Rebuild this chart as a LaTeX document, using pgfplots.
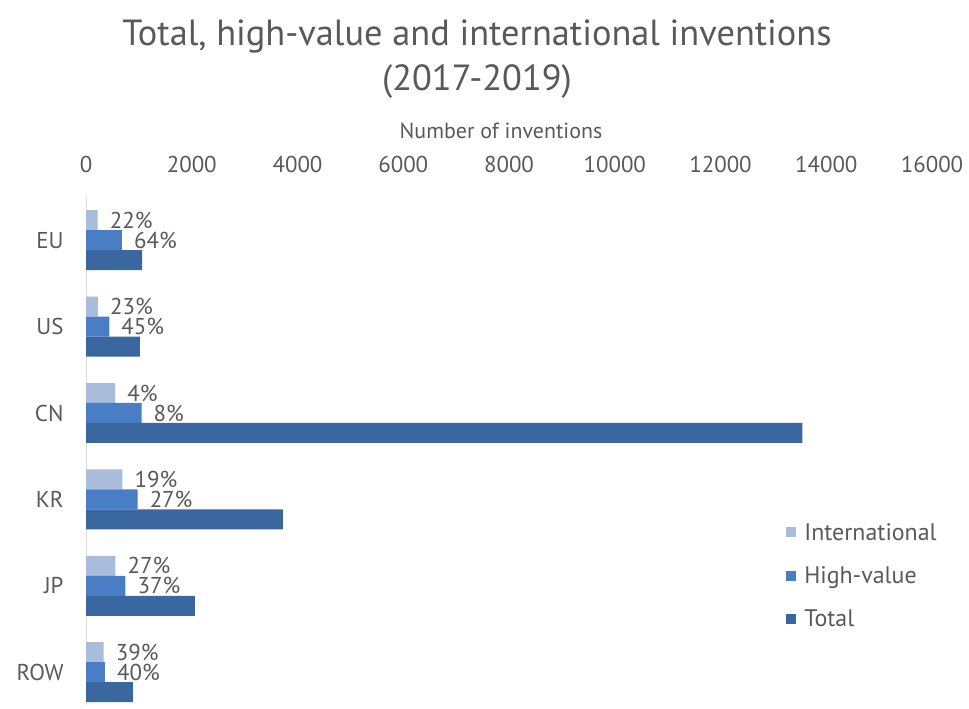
\documentclass[border=0pt]{standalone}
\usepackage{pgfplots}
\pgfplotsset{compat=1.18}
\usepackage{fontspec}
\setmainfont{PT Sans}
\definecolor{intl}{HTML}{A9BCDB}
\definecolor{hv}{HTML}{4A7EC4}
\definecolor{tot}{HTML}{3B67A1}
\definecolor{txt}{HTML}{595959}
\definecolor{axl}{HTML}{D9D9D9}
\pgfplotsset{sqlegend/.style={legend image code/.code={\fill[##1] (0bp,-5bp) rectangle (10bp,5bp);}}}
\begin{document}
\begin{tikzpicture}
\useasboundingbox (0,0) rectangle (969bp,709bp);
\node[font=\fontsize{36.5}{45}\selectfont, text=txt, align=center] at (477bp,650bp) {Total, high-value and international inventions\\(2017-2019)};
\node[font=\fontsize{22}{24}\selectfont, text=txt] at (501bp,578bp) {Number of inventions};
\begin{axis}[
  at={(86bp,4bp)}, anchor=south west,
  width=846bp, height=508bp, scale only axis,
  xbar, bar width=20bp,
  xmin=0, xmax=16000, ymin=-0.5, ymax=5.38, y dir=reverse,
  ytick={0,...,5}, yticklabels={EU,US,CN,KR,JP,ROW},
  xtick={0,2000,...,16000},
  axis x line*=top, axis y line*=left,
  x axis line style={draw=none}, y axis line style={draw=axl, line width=1bp, -},
  major tick length=0pt,
  tick label style={font=\fontsize{23}{24}\selectfont, text=txt},
  /pgf/number format/assume math mode=true,
  /pgf/number format/set thousands separator={},
  xticklabel style={yshift=21bp},
  yticklabel style={xshift=-19bp},
  scaled x ticks=false,
  every node near coord/.append style={anchor=west, inner sep=0pt, xshift=12bp, font=\fontsize{23}{25}\selectfont, text=txt},
  legend style={draw=none, fill=none, at={(0.824,0.366)}, anchor=north west, font=\fontsize{24}{26}\selectfont, text=txt, row sep=21bp, column sep=6bp},
  legend cell align=left,
]
\addplot[fill=intl, draw=none, bar shift=20bp, nodes near coords, point meta=explicit symbolic, sqlegend]
  table[x=v, y=c, meta=l] {
c v l
0 220 22\%
1 225 23\%
2 550 4\%
3 690 19\%
4 555 27\%
5 335 39\%
};
\addplot[fill=hv, draw=none, bar shift=0bp, nodes near coords, point meta=explicit symbolic, sqlegend]
  table[x=v, y=c, meta=l] {
c v l
0 680 64\%
1 440 45\%
2 1050 8\%
3 975 27\%
4 745 37\%
5 358 40\%
};
\addplot[fill=tot, draw=none, bar shift=-20bp, sqlegend]
  table[x=v, y=c] {
c v
0 1060
1 1020
2 13550
3 3724
4 2060
5 888
};
\legend{International, High-value, Total}
\end{axis}
\end{tikzpicture}
\end{document}
